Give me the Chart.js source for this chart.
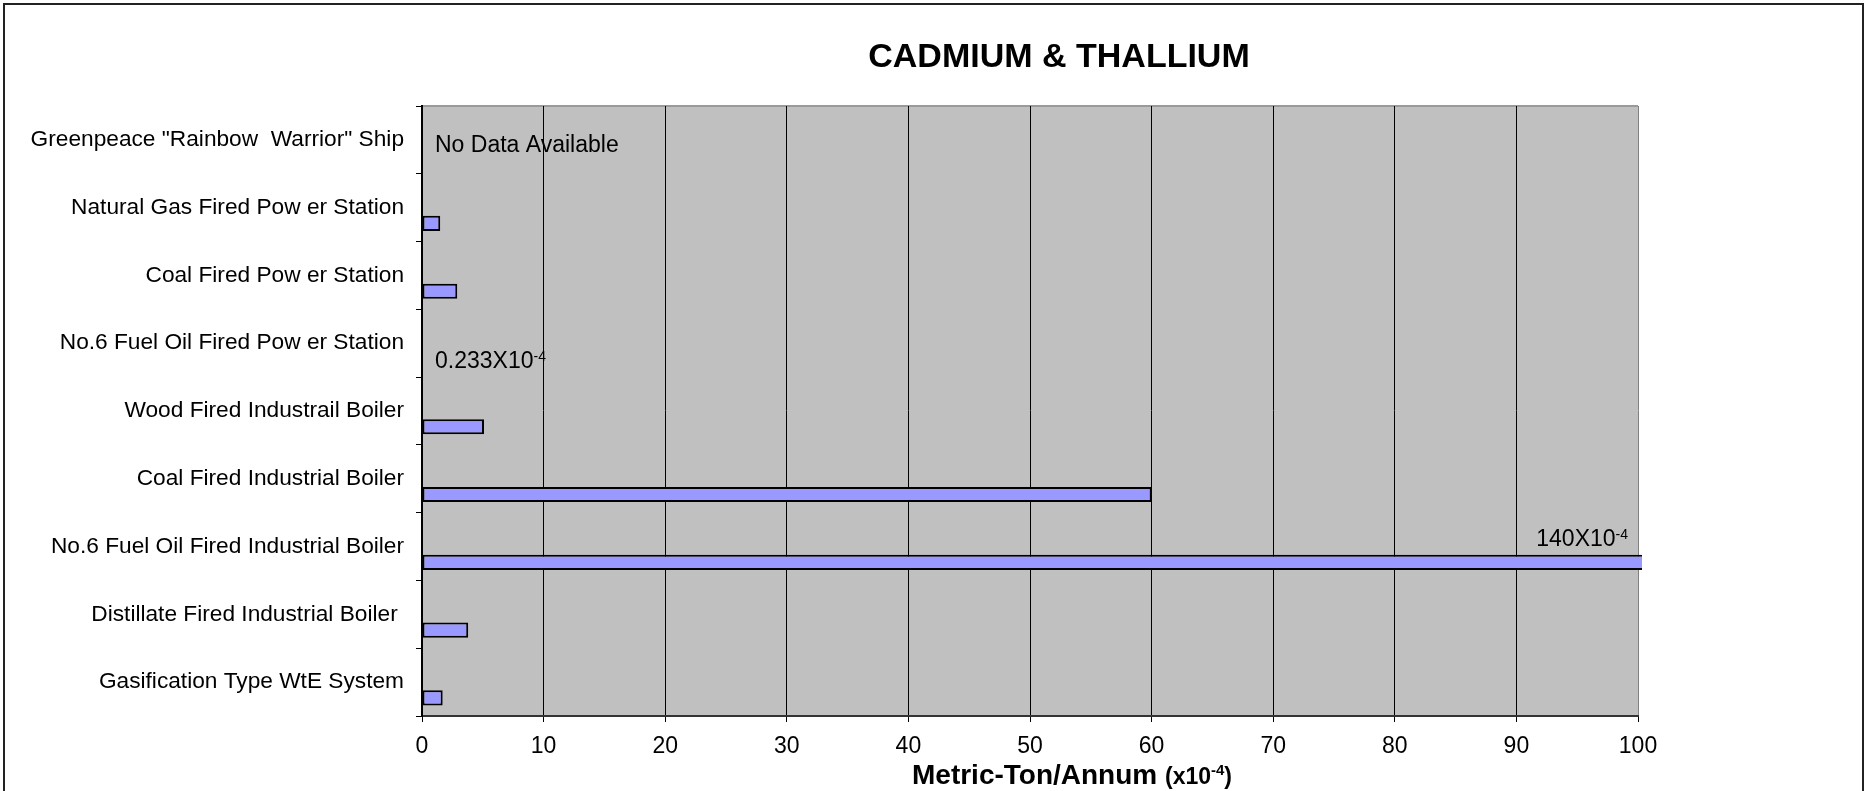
<!DOCTYPE html>
<html>
<head>
<meta charset="utf-8">
<script src="https://cdn.jsdelivr.net/npm/chart.js@4.4.1/dist/chart.umd.min.js"></script>
<style>
  html, body { margin: 0; padding: 0; background: #fff; overflow: hidden; }
  #wrap { position: relative; width: 1868px; height: 791px; }
  #frame { position: absolute; left: 3px; top: 3px; width: 1861px; height: 900px; box-sizing: border-box; border: 2px solid #222; pointer-events: none; }
  canvas { position: absolute; left: 0; top: 0; }
</style>
</head>
<body>
<div id="wrap">
  <canvas id="chart" width="1868" height="791"></canvas>
  <div id="frame"></div>
</div>
<script>
const categories = [
  'Greenpeace "Rainbow  Warrior" Ship',
  'Natural Gas Fired Pow er Station',
  'Coal Fired Pow er Station',
  'No.6 Fuel Oil Fired Pow er Station',
  'Wood Fired Industrail Boiler',
  'Coal Fired Industrial Boiler',
  'No.6 Fuel Oil Fired Industrial Boiler',
  'Distillate Fired Industrial Boiler ',
  'Gasification Type WtE System'
];
// the original has an empty first series, it just pushes the bars to the lower half of each row
const blankSeries = [null, null, null, null, null, null, null, null, null];
const emissions = [null, 1.5, 2.9, null, 5.1, 60, 140, 3.8, 1.7];
const xMin = 0;
const xMax = 100;
const xStep = 10;
const notes = [
  { row: 0, text: 'No Data Available', sup: '' },
  { row: 3, text: '0.233X10', sup: '-4' },
  { row: 6, text: '140X10', sup: '-4' }
];

const FONT = "'Liberation Sans', Arial, sans-serif";

// grey plot background + grey top edge
const plotBg = {
  id: 'plotBg',
  beforeDraw(chart) {
    const { ctx, chartArea: a } = chart;
    ctx.save();
    ctx.fillStyle = '#c0c0c0';
    ctx.fillRect(a.left, a.top, a.right - a.left, a.bottom - a.top);
    ctx.strokeStyle = '#9a9a9a';
    ctx.lineWidth = 2;
    ctx.beginPath();
    ctx.moveTo(a.left, a.top);
    ctx.lineTo(a.right, a.top);
    ctx.stroke();
    ctx.restore();
  }
};

// text with a small raised part, y is the middle of the capitals
function supText(ctx, text, sup, x, y, size, bold, align) {
  const w8 = bold ? 'bold ' : '';
  const supSize = Math.round(size * 0.6);
  ctx.font = w8 + size + 'px ' + FONT;
  const w = ctx.measureText(text).width;
  ctx.font = w8 + supSize + 'px ' + FONT;
  const ws = sup ? ctx.measureText(sup).width : 0;
  const start = align === 'right' ? x - w - ws : x;
  const base = y + size * 0.36;
  ctx.textAlign = 'left';
  ctx.textBaseline = 'alphabetic';
  ctx.font = w8 + size + 'px ' + FONT;
  ctx.fillText(text, start, base);
  if (sup) {
    ctx.font = w8 + supSize + 'px ' + FONT;
    ctx.fillText(sup, start + w, base - size * 0.3);
  }
  return start + w + ws;
}

const textLayer = {
  id: 'textLayer',
  afterDraw(chart) {
    const { ctx } = chart;
    const xs = chart.scales.x;
    const ys = chart.scales.y;
    ctx.save();
    ctx.fillStyle = '#000';

    // chart title
    ctx.font = 'bold 34px ' + FONT;
    ctx.textAlign = 'center';
    ctx.textBaseline = 'alphabetic';
    ctx.fillText('CADMIUM & THALLIUM', 1059, 67);

    // notes inside the plot
    notes.forEach(n => {
      const yc = ys.getPixelForValue(n.row);
      if (n.row === 0) {
        supText(ctx, n.text, n.sup, xs.getPixelForValue(0) + 13, yc + 4, 23, false, 'left');
      } else if (n.row === 3) {
        supText(ctx, n.text, n.sup, xs.getPixelForValue(0) + 13, yc + 16, 23, false, 'left');
      } else {
        supText(ctx, n.text, n.sup, xs.getPixelForValue(xMax) - 10, yc - 9, 23, false, 'right');
      }
    });

    // x axis title: Metric-Ton/Annum (x10-4)
    ctx.font = 'bold 28px ' + FONT;
    const w1 = ctx.measureText('Metric-Ton/Annum ').width;
    ctx.font = 'bold 23px ' + FONT;
    const w2 = ctx.measureText('(x10').width;
    const w3 = ctx.measureText(')').width;
    ctx.font = 'bold 15px ' + FONT;
    const w4 = ctx.measureText('-4').width;
    let x = 1072 - (w1 + w2 + w3 + w4) / 2;
    const base = 784;
    ctx.textAlign = 'left';
    ctx.font = 'bold 28px ' + FONT;
    ctx.fillText('Metric-Ton/Annum ', x, base);
    x += w1;
    ctx.font = 'bold 23px ' + FONT;
    ctx.fillText('(x10', x, base);
    x += w2;
    ctx.font = 'bold 15px ' + FONT;
    ctx.fillText('-4', x, base - 9);
    x += w4;
    ctx.font = 'bold 23px ' + FONT;
    ctx.fillText(')', x, base);
    ctx.restore();
  }
};

new Chart(document.getElementById('chart'), {
  type: 'bar',
  data: {
    labels: categories,
    datasets: [
      {
        label: 'blank',
        data: blankSeries,
        backgroundColor: '#9999ff',
        borderColor: '#000',
        borderWidth: 2
      },
      {
        label: 'Cadmium & Thallium',
        data: emissions,
        backgroundColor: '#9999ff',
        borderColor: '#000',
        borderWidth: 2,
        borderSkipped: false,
        clip: { left: false, top: false, right: 4, bottom: false }
      }
    ]
  },
  options: {
    indexAxis: 'y',
    responsive: false,
    animation: false,
    categoryPercentage: 0.93,
    barPercentage: 0.48,
    layout: { padding: { top: 106, right: 230, bottom: 0, left: 0 } },
    plugins: {
      legend: { display: false },
      title: { display: false },
      tooltip: { enabled: false }
    },
    scales: {
      x: {
        min: xMin,
        max: xMax,
        ticks: {
          stepSize: xStep,
          color: '#000',
          font: { family: FONT, size: 23 },
          padding: 11,
          maxRotation: 0
        },
        grid: {
          color: c => (c.tick && c.tick.value === xMax ? '#808080' : '#000'),
          lineWidth: 1,
          tickLength: 6,
          tickColor: '#000'
        },
        border: { color: '#333', width: 2 },
        afterFit(s) { s.height = 75; }
      },
      y: {
        ticks: {
          color: '#000',
          font: { family: FONT, size: 22.7 },
          padding: 12
        },
        grid: {
          drawOnChartArea: false,
          tickLength: 6,
          color: '#000',
          offset: true
        },
        border: { color: '#000', width: 2 },
        afterFit(s) { s.width = 422; }
      }
    }
  },
  plugins: [plotBg, textLayer]
});
</script>
</body>
</html>
